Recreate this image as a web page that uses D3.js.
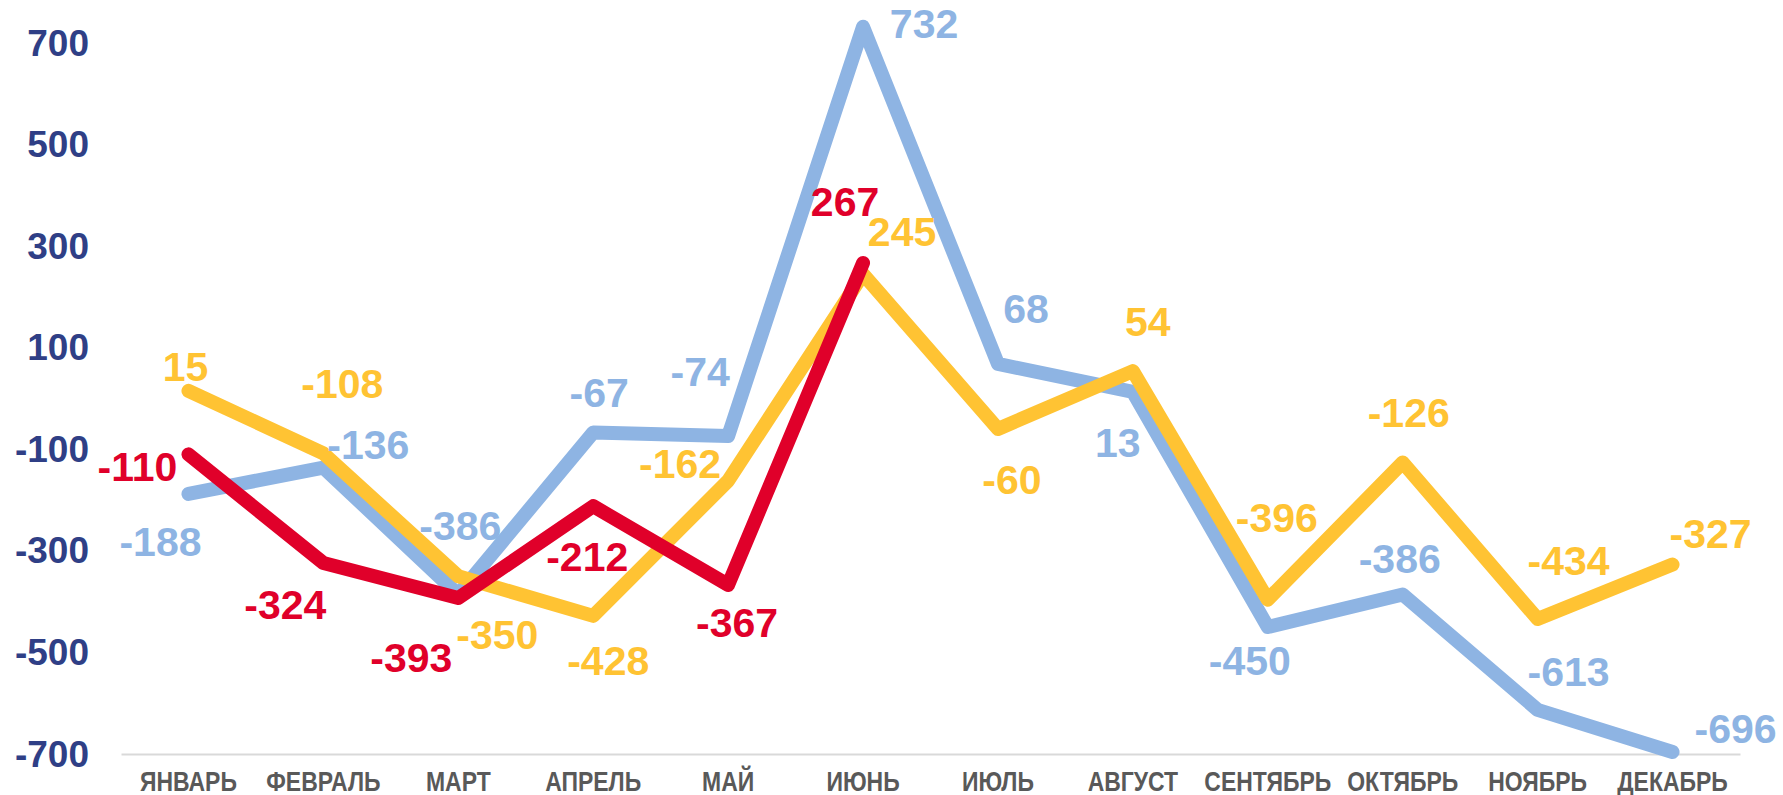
<!DOCTYPE html>
<html>
<head>
<meta charset="utf-8">
<script src="https://cdn.jsdelivr.net/npm/d3@7"></script>
<style>
  html, body { margin: 0; padding: 0; background: #fff; }
  svg { display: block; }
</style>
</head>
<body>
<svg id="chart"></svg>
<script>
// chart data
const months = ['ЯНВАРЬ', 'ФЕВРАЛЬ', 'МАРТ', 'АПРЕЛЬ', 'МАЙ', 'ИЮНЬ', 'ИЮЛЬ', 'АВГУСТ', 'СЕНТЯБРЬ', 'ОКТЯБРЬ', 'НОЯБРЬ', 'ДЕКАБРЬ'];
const blueValues = [-188, -136, -386, -67, -74, 732, 68, 13, -450, -386, -613, -696];
const yellowValues = [15, -108, -350, -428, -162, 245, -60, 54, -396, -126, -434, -327];
const redValues = [-110, -324, -393, -212, -367, 267];
const yTicks = [-700, -500, -300, -100, 100, 300, 500, 700];

// label offsets from each point, px
const blueLabelOffsets = [[-28, 48], [45, -23], [2, -69], [6, -40], [-28, -64], [61, -3], [28, -55], [-15, 51], [-18, 34], [-3, -36], [31, -38], [63, -23]];
const yellowLabelOffsets = [[-3, -24], [19, -69], [39, 59], [15, 45], [-48, -17], [39, -42], [14, 51], [15, -49], [9, -82], [6, -49], [31, -58], [38, -31]];
const redLabelOffsets = [[-51, 13], [-38, 42], [-47, 60], [-6, 51], [9, 38], [-18, -61]];

const width = 1783, height = 795;
const svg = d3.select('#chart').attr('width', width).attr('height', height);

const x = d3.scaleBand().domain(months).range([121, 1740]);
const y = d3.scaleLinear().domain([-700, 700]).range([754, 43]);
const cx = m => x(m) + x.bandwidth() / 2;

// y tick labels (no axis line)
svg.append('g')
    .selectAll('text')
    .data(yTicks)
    .enter().append('text')
    .attr('x', 89)
    .attr('y', d => y(d))
    .attr('text-anchor', 'end')
    .attr('dominant-baseline', 'central')
    .style('font-family', '"Liberation Sans", Arial, sans-serif')
    .style('font-weight', 'bold')
    .style('font-size', '37px')
    .style('fill', '#2F3F86')
    .text(d => d);

// category axis
const xAxis = svg.append('g')
    .attr('transform', 'translate(0,' + y(-700) + ')')
    .call(d3.axisBottom(x).tickSize(0).tickPadding(17));
xAxis.select('.domain').attr('stroke', '#D9D9D9').attr('stroke-width', 2);
xAxis.selectAll('text')
    .attr('transform', 'scale(0.82,1)') // narrow look
    .style('font-family', '"Liberation Sans", Arial, sans-serif')
    .style('font-weight', 'bold')
    .style('font-size', '28px')
    .style('fill', '#595959');

const series = [
    {values: blueValues, color: '#8EB4E3', offsets: blueLabelOffsets},
    {values: yellowValues, color: '#FFC333', offsets: yellowLabelOffsets},
    {values: redValues, color: '#E0002A', offsets: redLabelOffsets}
];

const line = d3.line()
    .x((d, i) => cx(months[i]))
    .y(d => y(d));

series.forEach(s => {
    svg.append('path')
        .datum(s.values)
        .attr('d', line)
        .attr('fill', 'none')
        .attr('stroke', s.color)
        .attr('stroke-width', 14)
        .attr('stroke-linejoin', 'round')
        .attr('stroke-linecap', 'round');
});

series.forEach(s => {
    svg.append('g')
        .selectAll('text')
        .data(s.values)
        .enter().append('text')
        .attr('x', (d, i) => cx(months[i]) + s.offsets[i][0])
        .attr('y', (d, i) => y(d) + s.offsets[i][1])
        .attr('text-anchor', 'middle')
        .attr('dominant-baseline', 'central')
        .style('font-family', '"Liberation Sans", Arial, sans-serif')
        .style('font-weight', 'bold')
        .style('font-size', '41px')
        .style('fill', s.color)
        .text(d => d);
});
</script>
</body>
</html>
